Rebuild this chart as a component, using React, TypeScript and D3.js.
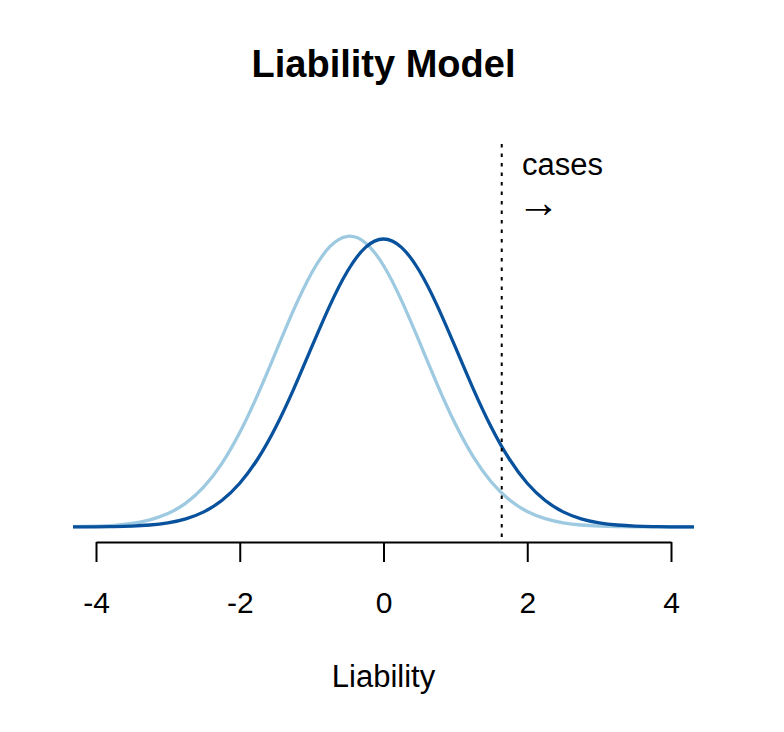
import React, { useEffect, useRef } from "react";
import * as d3 from "d3";

const xGrid = [-4.32, -4, -3.75, -3.5, -3.25, -3, -2.75, -2.5, -2.25, -2, -1.75, -1.5, -1.25, -1, -0.75, -0.5, -0.25, 0, 0.25, 0.5, 0.75, 1, 1.25, 1.5, 1.75, 2, 2.25, 2.5, 2.75, 3, 3.25, 3.5, 3.75, 4, 4.32];

const populationDensity = [0.00006, 0.00021, 0.00053, 0.00124, 0.00275, 0.00574, 0.0113, 0.02097, 0.0367, 0.06056, 0.09421, 0.13815, 0.19103, 0.24902, 0.30604, 0.3546, 0.38736, 0.39894, 0.38736, 0.3546, 0.30604, 0.24902, 0.19103, 0.13815, 0.09421, 0.06056, 0.0367, 0.02097, 0.0113, 0.00574, 0.00275, 0.00124, 0.00053, 0.00021, 0.00006];

const shiftedDensity = [0.00032, 0.00101, 0.00229, 0.00489, 0.00982, 0.01858, 0.03312, 0.05559, 0.08787, 0.13077, 0.18329, 0.24192, 0.30068, 0.35194, 0.3879, 0.40263, 0.39354, 0.36223, 0.31397, 0.25629, 0.19699, 0.14258, 0.09719, 0.06239, 0.03771, 0.02146, 0.0115, 0.00581, 0.00276, 0.00124, 0.00052, 0.00021, 0.00008, 0.00003, 0.00001];

const xTicks = [-4, -2, 0, 2, 4];
const threshold = [1.645];
const titleText = "Liability Model";
const xLabel = "Liability";
const annotation = ["cases", "→"];

const W = 784;
const H = 732;

export default function App() {
  const axisRef = useRef<SVGGElement>(null);

  const x = d3.scaleLinear().domain([-4, 4]).range([96, 671]);
  const y = d3.scaleLinear().domain([0, 0.39894]).range([527, 239]);

  const line = d3
    .line<number>()
    .x((_, i) => x(xGrid[i]))
    .y((d) => y(d))
    .curve(d3.curveNatural);

  const fontFamily = "'Liberation Sans', Arial, sans-serif";

  useEffect(() => {
    if (!axisRef.current) return;
    const g = d3.select(axisRef.current);
    g.selectAll("*").remove();
    g.call(
      d3
        .axisBottom(x)
        .tickValues(xTicks)
        .tickSize(20)
        .tickSizeOuter(0)
        .tickPadding(0)
        .tickFormat((d) => String(d).replace("−", "-"))
    );
    g.select(".domain").attr("stroke", "#000").attr("stroke-width", 2);
    g.selectAll(".tick line").attr("stroke", "#000").attr("stroke-width", 2);
    g.selectAll(".tick text")
      .attr("y", 71)
      .attr("dy", 0)
      .attr("fill", "#000")
      .style("font-family", fontFamily)
      .style("font-size", "30px");
  }, []);

  return (
    <svg
      width={W}
      height={H}
      style={{ position: "absolute", left: 0, top: 0, display: "block", background: "#fff" }}
    >
      <rect x={0} y={0} width={W} height={H} fill="#fff" />
      <text
        x={383.5}
        y={77}
        textAnchor="middle"
        fontFamily={fontFamily}
        fontWeight="bold"
        fontSize={38}
        fill="#000"
      >
        {titleText}
      </text>
      <path d={line(shiftedDensity) || ""} fill="none" stroke="#9ECAE1" strokeWidth={3.3} />
      <path d={line(populationDensity) || ""} fill="none" stroke="#08519C" strokeWidth={3.3} />
      {threshold.map((t) => (
        <line
          key={t}
          x1={x(t)}
          x2={x(t)}
          y1={144}
          y2={542}
          stroke="#000"
          strokeWidth={2}
          strokeDasharray="3.5 6"
        />
      ))}
      <text x={522} y={175} fontFamily={fontFamily} fontSize={31} fill="#000">
        {annotation[0]}
      </text>
      <text x={517} y={217} fontFamily={fontFamily} fontSize={43} fill="#000">
        {annotation[1]}
      </text>
      <g ref={axisRef} transform="translate(0,542)" />
      <text x={383.5} y={687} textAnchor="middle" fontFamily={fontFamily} fontSize={31} fill="#000">
        {xLabel}
      </text>
    </svg>
  );
}
